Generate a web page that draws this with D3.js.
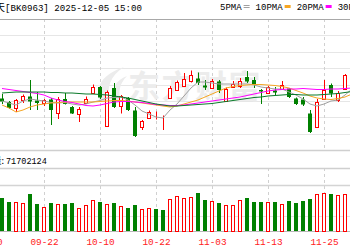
<!DOCTYPE html>
<html>
<head>
<meta charset="utf-8">
<script src="https://cdn.jsdelivr.net/npm/d3@7"></script>
<style>
body { margin: 0; background: #fff; }
svg { display: block; }
</style>
</head>
<body>
<div id="chart"></div>
<script>

// ---- data ----
var boardName = "商业航天";
var boardCode = "BK0963";
var timeStamp = "2025-12-05 15:00";
var volumeLabel = "成交量:";
var lastVolume = 71702124;

var leadDates = ["09-10", "09-11"];   // only used for the axis
var dates = ["09-12","09-15","09-16","09-17","09-18","09-19","09-22","09-23","09-24","09-25",
             "09-26","09-29","09-30","10-09","10-10","10-13","10-14","10-15","10-16","10-17",
             "10-20","10-21","10-22","10-23","10-24","10-27","10-28","10-29","10-30","10-31",
             "11-03","11-04","11-05","11-06","11-07","11-10","11-11","11-12","11-13","11-14",
             "11-17","11-18","11-19","11-20","11-21","11-24","11-25","11-26","11-27","11-28",
             "12-01"];

var opens  = [901.5,898,892,899.5,903.5,899.5,897,900.5,887.5,901,893,886.5,897,907,913,874,912,894,902,889.5,
              873,882.5,885,883,902,910,914.5,918.5,921.5,914.5,913,918.5,900,913.5,913.5,923,920,910,907,909.5,
              911,911.5,901.5,900.5,886.5,874,901.5,915,900.5,911.5,933];
var closes = [898.5,892,900.5,904,898.5,897,900,890,901.5,896,886.5,891.5,901.5,913,902.5,908,893,903.5,890,864,
              879,888,885,883,912,918,921,925,917,912.5,919.5,910,911.5,916.5,918.5,918.5,915,908.5,913,907.5,
              915,903,896,895.5,868,898.5,910,906.5,907,925,941];
var highs  = [906,899,901,905.5,920,908,901,902,903,907,894,893,903.5,915.5,914,909.5,917,905,903,893,
              880,889.5,888.5,884.5,914,919.5,927,929.5,927.5,920,921,920,912.5,919,922,929,923,911,914,913,
              919,912,902.5,903,890,901,920,916.5,909,926,945];
var lows   = [896,891,888,897,890,890,894,875,881,895.5,886,878,896,906,901,873.5,892,886.5,889,863,
              870,881,880.5,870,901,909,913.5,917.5,915,910,911,907,899.5,912,912,917,912,896,906,905,
              910,902,895,894,867,873,900,903,898,911,932];
// volume, millions
var volumes = [60.5,54.2,53.7,52.4,67.9,50.5,43.8,52.4,49.4,50.5,52.4,42.0,47.5,57.4,53.1,49.4,52.4,46.8,42.6,47.5,
               40.7,42.6,40.7,38.9,59.2,65.3,60.5,63.5,70.9,57.4,55.5,51.2,48.7,48.7,57.4,60.5,54.2,54.2,54.2,54.2,
               50.5,55.5,52.4,55.5,59.2,67.9,69.7,67.9,66.0,67.9,74.0];

var ma5  = [899,897,895,899,901,900,899,897.5,897,897.5,896,895,896,898,899.5,902,902.5,903,900,895,
            889,886,883,882,890,896,904,912,918,918,917,916,916,916,916,916,915,913,912,911,
            911,908,905,901,896,894,896,899,900,905,911];
var ma10 = [895,892,888,890,893,895,896,897,897.5,898,898,898,898,898,898.5,899,899.5,899.5,899,898,
            897,896,895,894,893,894,896,898,900,903,906,909,912,913.5,914.5,915,915.5,915.5,915,914.5,
            913.5,912,909.5,907,904,902,901,900.5,901.5,903,906];
var ma20 = [911.5,910.5,909.5,908.5,907.5,906.5,905,902,900,898.5,897.5,896,894.5,894,895,896.5,898,898.5,898.5,898,
            897.5,896.5,895.5,895,894.5,894.5,895,896,897,898,899,900,901,902,903,904.5,906,907.5,909,910,
            910.5,911,911,911.5,911,910.5,910.5,911,911,911.5,912];
var ma30 = [907,907.5,908,908,908,908,908,907.5,907.5,907,907,906.5,906,906,905.5,905,904,903,902,900.5,
            899,897.5,896,895,894,894,894.5,895,895.5,896,896.5,897.5,898.5,899.5,900.5,901.5,902.5,903,904,904.5,
            905,905.5,905.5,905,905,905,905.5,906,906.5,907.5,908.5];

var maNames  = ["5PMA", "10PMA", "20PMA", "30PMA"];
var maColors = ["#a0a0a0", "#f5a623", "#ff00ff", "#0a7a2a"];
var tickLabels = ["09-10", "09-22", "10-10", "10-22", "11-03", "11-13", "11-25"];

// ---- layout ----
var width = 350, height = 250;
var priceTop = 19, priceBottom = 150;
var labelBottom = 168;
var volTop = 185, volBottom = 231;
var upColor = "#ff0000", downColor = "#008000";
var monoFont = "'Liberation Mono', 'DejaVu Sans Mono', monospace";

var svg = d3.select("#chart").append("svg")
    .attr("width", width)
    .attr("height", height)
    .style("font-family", monoFont);

var xScale = d3.scalePoint()
    .domain(leadDates.concat(dates))
    .range([-12, 352]);

var yScale = d3.scaleLinear()
    .domain([850, 981])
    .range([priceBottom, priceTop]);

var vScale = d3.scaleLinear()
    .domain([0, 85])
    .range([volBottom, volTop]);

var candles = dates.map(function(d, i) {
    var dir = closes[i] > opens[i] ? 1 : (closes[i] < opens[i] ? -1 : 0);
    var volDir = dir !== 0 ? dir : (i > 0 && closes[i] < closes[i - 1] ? -1 : 1);
    return {date: d, o: opens[i], c: closes[i], h: highs[i], l: lows[i],
            v: volumes[i], up: dir >= 0, volUp: volDir > 0};
});

// ---- grid ----
var grid = svg.append("g").attr("class", "grid");

// price panel lines, 8 equal bands
var priceLines = d3.range(1, 8).map(k => 850 + k * (981 - 850) / 8);
grid.selectAll("line.pgrid").data(priceLines).enter().append("line")
    .attr("class", "pgrid")
    .attr("x1", 0).attr("x2", width)
    .attr("y1", d => Math.round(yScale(d)) + 0.5)
    .attr("y2", d => Math.round(yScale(d)) + 0.5)
    .attr("stroke", "#e6e6e6");

// vertical dashed lines at the date ticks
var vLineTicks = tickLabels.slice(1);
[[priceTop, priceBottom], [labelBottom, volBottom]].forEach(function(seg) {
    grid.selectAll(null).data(vLineTicks).enter().append("line")
        .attr("x1", d => xScale(d) + 0.5).attr("x2", d => xScale(d) + 0.5)
        .attr("y1", seg[0]).attr("y2", seg[1])
        .attr("stroke", "#d0d0d0")
        .attr("stroke-dasharray", "3,3");
});

// volume panel lines
grid.append("line")
    .attr("x1", 0).attr("x2", width)
    .attr("y1", Math.round(vScale(85 / 3)) + 0.5).attr("y2", Math.round(vScale(85 / 3)) + 0.5)
    .attr("stroke", "#e6e6e6");

[[priceTop, "#a8a8a8", 1], [priceBottom, "#cfcfcf", 1.5], [labelBottom, "#cfcfcf", 1.5],
 [volTop, "#d4d4d4", 1.5], [volBottom, "#b8b8b8", 1]].forEach(function(ln) {
    grid.append("line")
        .attr("x1", 0).attr("x2", width)
        .attr("y1", ln[0] + 0.5).attr("y2", ln[0] + 0.5)
        .attr("stroke", ln[1])
        .attr("stroke-width", ln[2]);
});

// ---- watermark ----
var wm = svg.append("g").attr("class", "watermark").attr("fill", "#ececec");
wm.append("path")
    .attr("d", "M100,102 C94,88 102,74 124,67 C110,76 106,88 110,102 Z " +
               "M112,102 C110,90 116,80 127,76 C119,84 118,93 121,102 Z");
wm.append("text")
    .attr("x", 128).attr("y", 98)
    .style("font-family", "'Noto Sans CJK SC'")
    .style("font-size", "32px")
    .style("font-weight", 700)
    .style("letter-spacing", "1.5px")
    .text("东方财富");

// ---- candles ----
var cg = svg.append("g").attr("class", "candles");

cg.selectAll("line.wick").data(candles).enter().append("line")
    .attr("class", "wick")
    .attr("x1", d => xScale(d.date) + 0.5)
    .attr("x2", d => xScale(d.date) + 0.5)
    .attr("y1", d => yScale(d.h))
    .attr("y2", d => yScale(d.l))
    .attr("stroke", d => d.up ? upColor : downColor);

cg.selectAll("rect.body").data(candles).enter().append("rect")
    .attr("class", "body")
    .attr("x", d => d.up ? xScale(d.date) - 1.5 : xScale(d.date) - 2)
    .attr("width", d => d.up ? 3 : 4)
    .attr("y", function(d) {
        var top = yScale(Math.max(d.o, d.c));
        return d.up ? Math.round(top) + 0.5 : top;
    })
    .attr("height", function(d) {
        var hgt = Math.abs(yScale(d.o) - yScale(d.c));
        return d.up ? Math.max(Math.round(hgt), 0) : Math.max(hgt, 1);
    })
    .attr("fill", d => d.up ? "#fff" : downColor)
    .attr("stroke", d => d.up ? upColor : "none");

// ---- moving averages ----
var maSeries = [ma5, ma10, ma20, ma30];
var maLine = d3.line()
    .x((d, i) => xScale(dates[i]))
    .y(d => yScale(d));

svg.append("g").attr("class", "ma")
    .selectAll("path").data(maSeries).enter().append("path")
    .attr("d", d => maLine(d))
    .attr("fill", "none")
    .attr("stroke", (d, i) => maColors[i])
    .attr("stroke-width", 1);

// ---- volume bars ----
var vg = svg.append("g").attr("class", "volume");
vg.selectAll("rect").data(candles).enter().append("rect")
    .attr("x", d => d.volUp ? xScale(d.date) - 1.5 : xScale(d.date) - 2)
    .attr("width", d => d.volUp ? 3 : 4)
    .attr("y", d => d.volUp ? Math.round(vScale(d.v)) + 0.5 : Math.round(vScale(d.v)))
    .attr("height", d => volBottom - Math.round(vScale(d.v)))
    .attr("fill", d => d.volUp ? "#fff" : downColor)
    .attr("stroke", d => d.volUp ? upColor : "none");

// volume caption: label runs off the left edge, only the colon shows
svg.append("text")
    .attr("x", 4).attr("y", 163.5)
    .attr("text-anchor", "end")
    .style("font-family", "'Noto Sans CJK SC'")
    .style("font-size", "9px")
    .attr("fill", "#000")
    .text(volumeLabel);

svg.append("text")
    .attr("x", 6).attr("y", 163.5)
    .style("font-size", "8.5px")
    .attr("fill", "#000")
    .text(lastVolume);

// ---- x axis ----
var xAxis = d3.axisBottom(xScale)
    .tickValues(tickLabels)
    .tickSize(0)
    .tickPadding(7);

var ax = svg.append("g")
    .attr("class", "xAxis")
    .attr("transform", "translate(0, " + volBottom + ")")
    .call(xAxis);
ax.select(".domain").remove();
ax.selectAll("text")
    .attr("fill", "#ff2020")
    .style("font-family", monoFont)
    .style("font-size", "9.4px");

// ---- header ----
svg.append("text")
    .attr("x", 5).attr("y", 11)
    .attr("text-anchor", "end")
    .style("font-family", "'Noto Sans CJK SC'")
    .style("font-size", "10px")
    .text(boardName);

svg.append("text")
    .attr("x", 5).attr("y", 11)
    .attr("textLength", 137)
    .attr("lengthAdjust", "spacingAndGlyphs")
    .style("font-size", "9.5px")
    .text("[" + boardCode + "] " + timeStamp);

// legend
var lx = 220;
maNames.forEach(function(name, k) {
    var t = svg.append("text")
        .attr("x", lx).attr("y", 10)
        .style("font-size", "9px")
        .text(name);
    var sx = lx + t.node().getComputedTextLength() + 2;
    if (k === 0) {
        [5.5, 7.5].forEach(function(yy) {
            svg.append("line")
                .attr("x1", sx).attr("x2", sx + 6)
                .attr("y1", yy).attr("y2", yy)
                .attr("stroke", maColors[k]);
        });
    } else {
        svg.append("rect")
            .attr("x", sx).attr("y", 5)
            .attr("width", 6).attr("height", 3)
            .attr("fill", maColors[k]);
    }
    lx = sx + 12;
});

</script>
</body>
</html>
